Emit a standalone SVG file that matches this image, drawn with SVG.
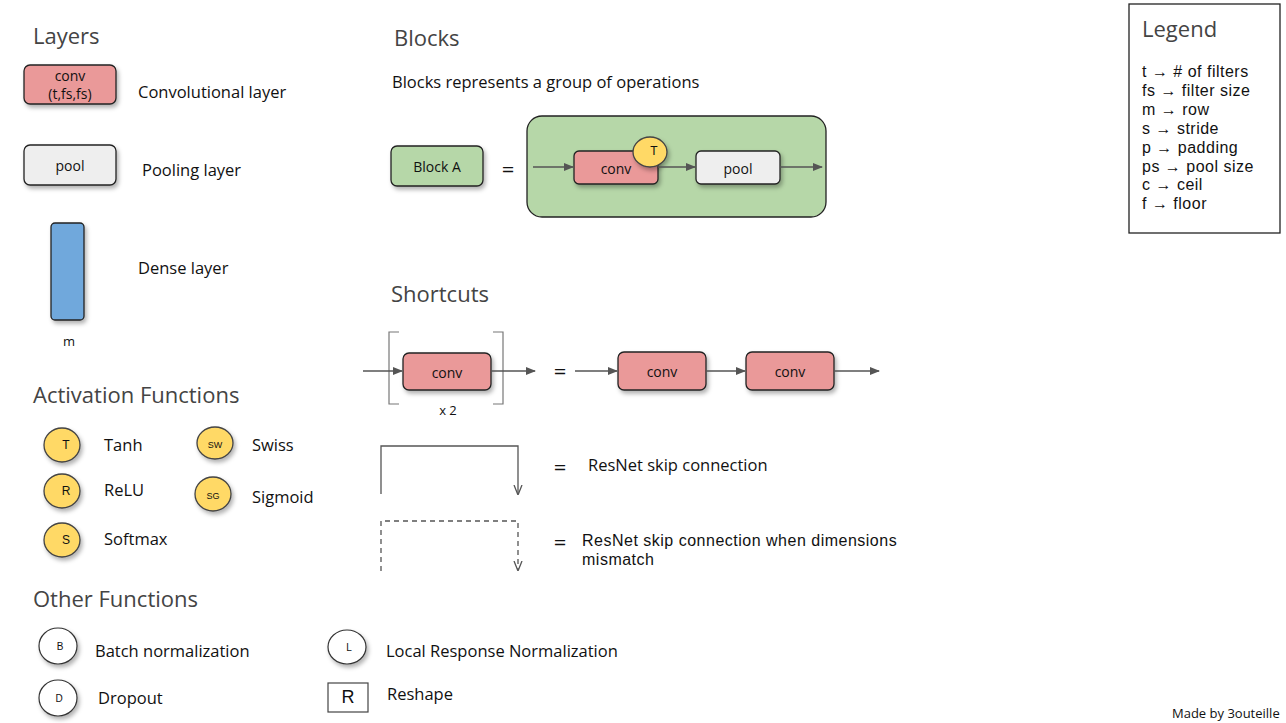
<svg xmlns="http://www.w3.org/2000/svg" width="1286" height="723" viewBox="0 0 1286 723">
<style>
text{font-family:"Open Sans","Noto Sans",sans-serif;fill:#111}
.h{font-size:22px;fill:#444}
.t{font-size:16.5px}
.m{font-family:"Liberation Sans",Arial,sans-serif;font-size:16px;letter-spacing:0.5px}
.s{font-size:14px}
.c{text-anchor:middle;dominant-baseline:central}
.box{stroke:#222;stroke-width:1.3}
.conv{fill:#EA9999}
.pool{fill:#EEEEEE}
.act{fill:#FFD966;stroke:#444;stroke-width:1.3}
.wc{fill:#fff;stroke:#333;stroke-width:1.2}
.ln{fill:none;stroke:#555;stroke-width:1.3}
.sh{filter:url(#sh)}
</style>
<defs>
<filter id="sh" x="-30%" y="-30%" width="160%" height="160%">
<feDropShadow dx="2" dy="3" stdDeviation="2" flood-color="#000" flood-opacity="0.3"/>
</filter>
<marker id="ar" viewBox="0 0 10 10" refX="9" refY="5" markerWidth="10" markerHeight="10" markerUnits="userSpaceOnUse" orient="auto">
<path d="M0,1 L10,5 L0,9 Z" fill="#555"/>
</marker>
<marker id="av" viewBox="0 0 10 10" refX="9" refY="5" markerWidth="10" markerHeight="10" markerUnits="userSpaceOnUse" orient="auto">
<path d="M0,1 L10,5 L0,9" fill="none" stroke="#555" stroke-width="1.3"/>
</marker>
</defs>
<rect width="1286" height="723" fill="#fff"/>

<g id="layers">
<text class="h" x="33" y="44">Layers</text>
<g id="conv-layer"><rect class="box conv sh" x="24" y="65" width="92" height="39" rx="6"/>
<text class="s" text-anchor="middle" x="70" y="81">conv<tspan x="70" y="99">(t,fs,fs)</tspan></text></g>
<text class="t" x="138" y="98">Convolutional layer</text>
<g id="pool-layer"><rect class="box pool sh" x="24" y="145" width="92" height="40" rx="6"/>
<text class="s c" x="70" y="165">pool</text></g>
<text class="t" x="142" y="176">Pooling layer</text>
<g id="dense-layer"><rect class="box sh" x="51" y="223" width="33" height="97" rx="4" fill="#6FA8DC"/>
<text class="c" style="font-size:13px" x="69" y="341">m</text></g>
<text class="t" x="138" y="274">Dense layer</text>
</g>

<g id="blocks">
<text class="h" x="394" y="46">Blocks</text>
<text class="t" x="392" y="88">Blocks represents a group of operations</text>
<g id="block-a"><rect class="box sh" x="391" y="146" width="92" height="40" rx="6" fill="#B6D7A8"/>
<text class="s c" x="437" y="166">Block A</text></g>
<text class="c" style="font-size:22px" x="508" y="168">=</text>
<g id="block-container"><rect class="box" x="527" y="116" width="299" height="101" rx="15" fill="#B6D7A8"/></g>
<g id="block-conv"><rect class="box conv sh" x="574" y="151" width="84" height="33" rx="5"/>
<text class="s c" x="616" y="168">conv</text></g>
<g id="block-t"><ellipse class="act sh" cx="650" cy="152" rx="17" ry="15"/>
<text class="c" style="font-size:12px;font-family:'Liberation Sans',sans-serif" x="654" y="151">T</text></g>
<g id="block-pool"><rect class="box pool sh" x="696" y="151" width="84" height="33" rx="5"/>
<text class="s c" x="738" y="168">pool</text></g>
</g>

<g id="shortcuts">
<text class="h" x="391" y="302">Shortcuts</text>
<g id="bracket"><path d="M399,332 H389 V404 H399" fill="none" stroke="#777" stroke-width="1.2"/><path d="M493,332 H503 V404 H493" fill="none" stroke="#777" stroke-width="1.2"/></g>
<g id="sc-conv"><rect class="box conv sh" x="403" y="353" width="88" height="37" rx="6"/>
<text class="s c" x="447" y="372">conv</text></g>
<text class="c" style="font-size:13px" x="448" y="410">x 2</text>
<text class="c" style="font-size:22px" x="560" y="370">=</text>
<g id="sc-conv1"><rect class="box conv sh" x="618" y="352" width="88" height="38" rx="6"/>
<text class="s c" x="662" y="371">conv</text></g>
<g id="sc-conv2"><rect class="box conv sh" x="746" y="352" width="88" height="38" rx="6"/>
<text class="s c" x="790" y="371">conv</text></g>
<text class="c" style="font-size:22px" x="560" y="466">=</text>
<text class="t" x="588" y="471">ResNet skip connection</text>
<text class="c" style="font-size:22px" x="560" y="541">=</text>
<text class="m" x="582" y="546">ResNet skip connection when dimensions<tspan x="582" y="565">mismatch</tspan></text>
</g>

<g id="connectors">
<line class="ln" x1="533" y1="167" x2="573" y2="167" marker-end="url(#ar)"/>
<line class="ln" x1="658" y1="167" x2="695" y2="167" marker-end="url(#ar)"/>
<line class="ln" x1="780" y1="167" x2="822" y2="167" marker-end="url(#ar)"/>
<line class="ln" x1="363" y1="371" x2="402" y2="371" marker-end="url(#ar)"/>
<line class="ln" x1="491" y1="371" x2="535" y2="371" marker-end="url(#ar)"/>
<line class="ln" x1="575" y1="371" x2="617" y2="371" marker-end="url(#ar)"/>
<line class="ln" x1="706" y1="371" x2="745" y2="371" marker-end="url(#ar)"/>
<line class="ln" x1="834" y1="371" x2="879" y2="371" marker-end="url(#ar)"/>
<path class="ln" d="M381,494 V446 H518 V494" marker-end="url(#av)"/>
<path class="ln" d="M381,571 V521 H518 V570" stroke-dasharray="5,4" marker-end="url(#av)"/>
</g>

<g id="activations">
<text class="h" x="33" y="403">Activation Functions</text>
<g id="act-t"><ellipse class="act sh" cx="62" cy="445" rx="18" ry="17"/><text class="c" style="font-size:12px;font-family:'Liberation Sans',sans-serif" x="66" y="445">T</text></g>
<text class="t" x="104" y="451">Tanh</text>
<g id="act-r"><ellipse class="act sh" cx="62" cy="491" rx="18" ry="17"/><text class="c" style="font-size:12px;font-family:'Liberation Sans',sans-serif" x="66" y="491">R</text></g>
<text class="t" x="104" y="496">ReLU</text>
<g id="act-s"><ellipse class="act sh" cx="62" cy="540" rx="18" ry="17"/><text class="c" style="font-size:12px;font-family:'Liberation Sans',sans-serif" x="66" y="540">S</text></g>
<text class="t" x="104" y="545">Softmax</text>
<g id="act-sw"><ellipse class="act sh" cx="215" cy="443" rx="18" ry="16"/><text class="c" style="font-size:9px;font-family:'Liberation Sans',sans-serif" x="215" y="445">SW</text></g>
<text class="t" x="252" y="451">Swiss</text>
<g id="act-sg"><ellipse class="act sh" cx="213" cy="494" rx="18" ry="17"/><text class="c" style="font-size:9px;font-family:'Liberation Sans',sans-serif" x="213" y="496">SG</text></g>
<text class="t" x="252" y="503">Sigmoid</text>
</g>

<g id="others">
<text class="h" x="33" y="607">Other Functions</text>
<g id="fn-b"><ellipse class="wc sh" cx="58" cy="646" rx="19" ry="18"/><text class="c" style="font-size:10px;font-family:'Liberation Sans',sans-serif" x="60" y="646">B</text></g>
<text class="t" x="95" y="657">Batch normalization</text>
<g id="fn-d"><ellipse class="wc sh" cx="58" cy="698" rx="19" ry="18"/><text class="c" style="font-size:10px;font-family:'Liberation Sans',sans-serif" x="59" y="698">D</text></g>
<text class="t" x="98" y="704">Dropout</text>
<g id="fn-l"><ellipse class="wc sh" cx="347" cy="647" rx="19" ry="17"/><text class="c" style="font-size:10px;font-family:'Liberation Sans',sans-serif" x="349" y="647">L</text></g>
<text class="t" x="386" y="657">Local Response Normalization</text>
<g id="fn-r"><rect x="328" y="683" width="40" height="29" fill="#fff" stroke="#444" stroke-width="1.2"/><text class="c" style="font-size:18px;font-family:'Liberation Sans',sans-serif" x="348" y="697">R</text></g>
<text class="t" x="387" y="700">Reshape</text>
</g>

<g id="legend">
<rect x="1129" y="4" width="151" height="229" fill="#fff" stroke="#222" stroke-width="1.3"/>
<text class="h" x="1142" y="37">Legend</text>
<text class="m" x="1142" y="77">t → # of filters<tspan x="1142" y="96">fs → filter size</tspan><tspan x="1142" y="115">m → row</tspan><tspan x="1142" y="134">s → stride</tspan><tspan x="1142" y="153">p → padding</tspan><tspan x="1142" y="172">ps → pool size</tspan><tspan x="1142" y="190">c → ceil</tspan><tspan x="1142" y="209">f → floor</tspan></text>
</g>
<text style="font-size:13px" x="1172" y="718">Made by 3outeille</text>
</svg>
